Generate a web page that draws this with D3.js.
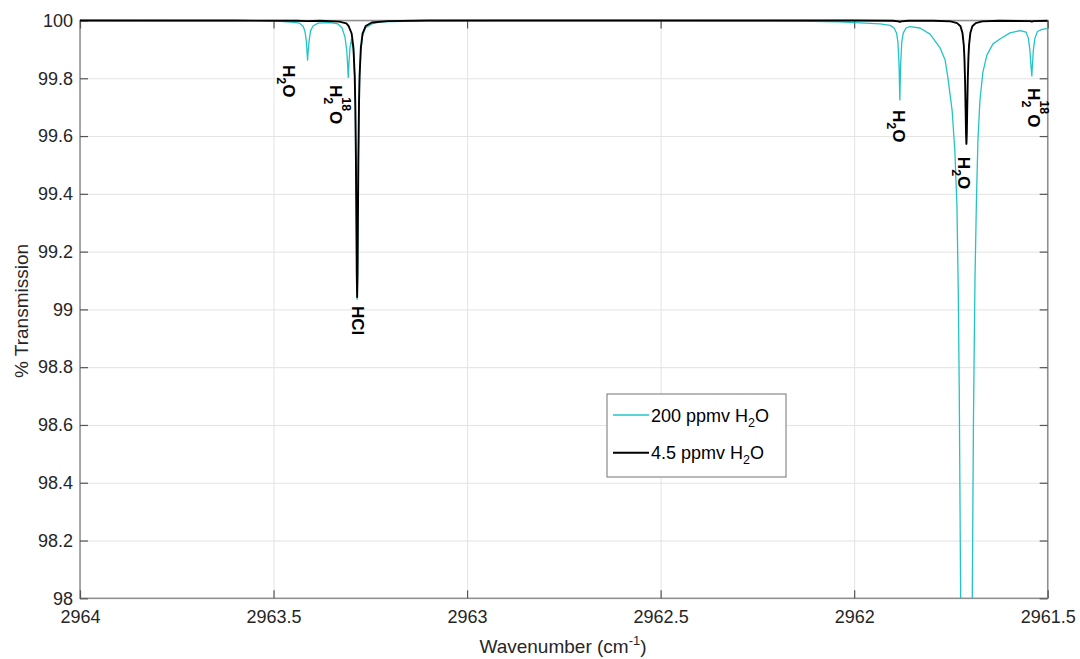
<!DOCTYPE html>
<html>
<head>
<meta charset="utf-8">
<script src="https://cdn.jsdelivr.net/npm/d3@7"></script>
<style>
  body { margin: 0; background: #fff; }
  svg { display: block; }
</style>
</head>
<body>
<svg id="chart" width="1080" height="659"></svg>
<script>
// ---------------- data ----------------
const xTickValues = [2964, 2963.5, 2963, 2962.5, 2962, 2961.5];
const xTickLabels = ["2964", "2963.5", "2963", "2962.5", "2962", "2961.5"];
const yTickValues = [98, 98.2, 98.4, 98.6, 98.8, 99, 99.2, 99.4, 99.6, 99.8, 100];
const yTickLabels = ["98", "98.2", "98.4", "98.6", "98.8", "99", "99.2", "99.4", "99.6", "99.8", "100"];

const seriesNames = ["200 ppmv", "4.5 ppmv"];

// 200 ppmv H2O spectrum (wavenumber, % transmission)
const wn200 = [
  2964.000, 2963.690, 2963.561, 2963.483, 2963.445, 2963.432, 2963.424, 2963.419, 2963.415, 2963.4135,
  2963.412, 2963.4107, 2963.4084, 2963.4045, 2963.398, 2963.385, 2963.354, 2963.3335, 2963.323, 2963.3155,
  2963.311, 2963.309, 2963.307, 2963.305, 2963.3025, 2963.2986, 2963.2935, 2963.2903, 2963.2887, 2963.2872,
  2963.2859, 2963.2850, 2963.2840, 2963.2830, 2963.2821, 2963.2808, 2963.2793, 2963.2777, 2963.2745, 2963.2700,
  2963.2620, 2963.2460, 2963.2250, 2963.1000, 2962.9000, 2962.6000, 2962.269, 2962.140, 2962.037, 2961.985,
  2961.933, 2961.907, 2961.897, 2961.8905, 2961.887, 2961.884, 2961.882, 2961.880, 2961.877, 2961.873,
  2961.866, 2961.856, 2961.830, 2961.804, 2961.778, 2961.765, 2961.758, 2961.747, 2961.740, 2961.7345,
  2961.7311, 2961.7285, 2961.7249, 2961.718, 2961.710, 2961.702, 2961.6949, 2961.6918, 2961.6879, 2961.6841,
  2961.6802, 2961.6750, 2961.6673, 2961.6569, 2961.6414, 2961.6233, 2961.5975, 2961.5717, 2961.556, 2961.550,
  2961.546, 2961.5434, 2961.541, 2961.5395, 2961.537, 2961.533, 2961.5265, 2961.515, 2961.500
];
const tr200 = [
  100.000, 99.999, 99.999, 99.997, 99.994, 99.990, 99.981, 99.964, 99.926, 99.891,
  99.863, 99.891, 99.926, 99.964, 99.981, 99.991, 99.993, 99.988, 99.974, 99.943,
  99.898, 99.856, 99.803, 99.856, 99.905, 99.935, 99.896, 99.801, 99.698, 99.514,
  99.288, 99.114, 99.035, 99.114, 99.288, 99.514, 99.698, 99.801, 99.896, 99.947,
  99.975, 99.988, 99.995, 99.999, 100.000, 100.000, 99.999, 99.998, 99.9955, 99.992,
  99.988, 99.983, 99.974, 99.957, 99.926, 99.846, 99.725, 99.846, 99.926, 99.957,
  99.974, 99.979, 99.974, 99.953, 99.905, 99.863, 99.804, 99.690, 99.552, 99.361,
  99.067, 98.721, 98.000, 97.000, 96.000, 97.000, 98.000, 98.617, 99.102, 99.379,
  99.586, 99.725, 99.822, 99.881, 99.919, 99.936, 99.957, 99.965, 99.960, 99.939,
  99.898, 99.846, 99.808, 99.846, 99.898, 99.939, 99.962, 99.969, 99.972
];

// 4.5 ppmv H2O spectrum (wavenumber, % transmission)
const wn45 = [
  2964.000, 2963.600, 2963.440, 2963.412, 2963.380, 2963.330, 2963.312, 2963.3063, 2963.2982, 2963.2935,
  2963.2903, 2963.2887, 2963.2872, 2963.2859, 2963.2850, 2963.2840, 2963.2830, 2963.2821, 2963.2808, 2963.2793,
  2963.2777, 2963.2745, 2963.2700, 2963.2620, 2963.2460, 2963.2050, 2963.1000, 2962.0000, 2961.9000, 2961.8860,
  2961.8820, 2961.8780, 2961.8600, 2961.7950, 2961.7510, 2961.7340, 2961.7253, 2961.7202, 2961.7168, 2961.7151,
  2961.7134, 2961.7120, 2961.7110, 2961.7100, 2961.7090, 2961.7080, 2961.7066, 2961.7049, 2961.7032, 2961.6998,
  2961.6947, 2961.6860, 2961.6690, 2961.6250, 2961.5450, 2961.5410, 2961.5370, 2961.5000
];
const tr45 = [
  100.000, 100.000, 99.999, 99.998, 99.999, 99.996, 99.990, 99.981, 99.955, 99.904,
  99.809, 99.706, 99.522, 99.296, 99.122, 99.043, 99.122, 99.296, 99.522, 99.706,
  99.809, 99.904, 99.955, 99.981, 99.993, 99.998, 100.000, 100.000, 99.999, 99.997,
  99.995, 99.997, 99.999, 99.999, 99.997, 99.991, 99.980, 99.957, 99.915, 99.869,
  99.786, 99.686, 99.608, 99.573, 99.608, 99.686, 99.786, 99.869, 99.915, 99.957,
  99.980, 99.991, 99.997, 99.999, 99.998, 99.996, 99.998, 99.999
];

// peak annotations: anchor (wavenumber, transmission), base text, subscript, superscript, tail
const labelWn   = [2963.4756, 2963.354, 2963.297, 2961.900, 2961.732, 2961.551];
const labelTr   = [99.846, 99.777, 99.012, 99.690, 99.528, 99.766];
const labelBase = ["H", "H", "HCl", "H", "H", "H"];
const labelSub  = ["2", "2", "", "2", "2", "2"];
const labelSup  = ["", "18", "", "", "", "18"];
const labelTail = ["O", "O", "", "O", "O", "O"];

// ---------------- chart ----------------
const FONT = "'Liberation Sans', Arial, Helvetica, sans-serif";
const svg = d3.select("#chart");
const pLeft = 80, pRight = 1047.7, pTop = 20.5, pBottom = 598.3;

const x = d3.scaleLinear().domain([2964, 2961.5]).range([pLeft, pRight]);
const y = d3.scaleLinear().domain([98, 100]).range([pBottom, pTop]);

// grid
svg.append("g")
  .attr("transform", `translate(0,${pBottom})`)
  .call(d3.axisBottom(x).tickValues(xTickValues).tickSize(-(pBottom - pTop)).tickFormat(""))
  .call(g => { g.select(".domain").remove(); g.selectAll("line").attr("stroke", "#e3e3e3").attr("stroke-width", 1); });
svg.append("g")
  .attr("transform", `translate(${pLeft},0)`)
  .call(d3.axisLeft(y).tickValues(yTickValues).tickSize(-(pRight - pLeft)).tickFormat(""))
  .call(g => { g.select(".domain").remove(); g.selectAll("line").attr("stroke", "#e3e3e3").attr("stroke-width", 1); });

// box
svg.append("rect")
  .attr("x", pLeft).attr("y", pTop).attr("width", pRight - pLeft).attr("height", pBottom - pTop)
  .attr("fill", "none").attr("stroke", "#8f8f8f").attr("stroke-width", 1.5);

const tickLen = 8;
function styleAxis(g) {
  g.select(".domain").remove();
  g.selectAll("line").attr("stroke", "#555").attr("stroke-width", 1.2);
  g.selectAll("text").attr("fill", "#262626").style("font-family", FONT).style("font-size", "18px");
}
svg.append("g").attr("transform", `translate(0,${pBottom})`)
  .call(d3.axisBottom(x).tickValues(xTickValues).tickFormat((d, i) => xTickLabels[i])
    .tickSizeInner(-tickLen).tickSizeOuter(0).tickPadding(12))
  .call(styleAxis);
svg.append("g").attr("transform", `translate(0,${pTop})`)
  .call(d3.axisTop(x).tickValues(xTickValues).tickFormat("").tickSizeInner(-tickLen).tickSizeOuter(0))
  .call(styleAxis);
svg.append("g").attr("transform", `translate(${pLeft},0)`)
  .call(d3.axisLeft(y).tickValues(yTickValues).tickFormat((d, i) => yTickLabels[i])
    .tickSizeInner(-tickLen).tickSizeOuter(0).tickPadding(7))
  .call(styleAxis);
svg.append("g").attr("transform", `translate(${pRight},0)`)
  .call(d3.axisRight(y).tickValues(yTickValues).tickFormat("").tickSizeInner(-tickLen).tickSizeOuter(0))
  .call(styleAxis);

// clip
svg.append("defs").append("clipPath").attr("id", "plotclip")
  .append("rect").attr("x", pLeft).attr("y", pTop - 3).attr("width", pRight - pLeft).attr("height", pBottom - pTop + 3);

const line = d3.line().x(d => x(d[0])).y(d => y(d[1]));
const data200 = wn200.map((w, i) => [w, tr200[i]]).sort((a, b) => b[0] - a[0]);
const data45 = wn45.map((w, i) => [w, tr45[i]]).sort((a, b) => b[0] - a[0]);

const plot = svg.append("g").attr("clip-path", "url(#plotclip)");
plot.append("path").attr("d", line(data200)).attr("fill", "none")
  .attr("stroke", "#22c4c8").attr("stroke-width", 1.3).attr("stroke-linejoin", "round");
plot.append("path").attr("d", line(data45)).attr("fill", "none")
  .attr("stroke", "#000").attr("stroke-width", 1.9).attr("stroke-linejoin", "round");

// peak labels (rotated 90deg)
labelWn.forEach((w, i) => {
  const g = svg.append("g")
    .attr("transform", `translate(${x(w)},${y(labelTr[i])}) rotate(90)`)
    .style("font-family", FONT).style("font-weight", "bold").attr("fill", "#000");
  const base = g.append("text").attr("x", 0).attr("y", 0).style("font-size", "17px").text(labelBase[i]);
  let off = base.node().getComputedTextLength();
  let extra = 0;
  if (labelSub[i]) {
    const s = g.append("text").attr("x", off).attr("y", 6).style("font-size", "12.5px").text(labelSub[i]);
    extra = Math.max(extra, s.node().getComputedTextLength());
  }
  if (labelSup[i]) {
    const s = g.append("text").attr("x", off).attr("y", -12).style("font-size", "12.5px").text(labelSup[i]);
    extra = Math.max(extra, s.node().getComputedTextLength());
  }
  off += extra;
  if (labelTail[i]) {
    g.append("text").attr("x", off).attr("y", 0).style("font-size", "17px").text(labelTail[i]);
  }
});

// axis labels
const xl = svg.append("text").attr("x", 563).attr("y", 653).attr("text-anchor", "middle")
  .style("font-family", FONT).style("font-size", "19px").attr("fill", "#262626");
xl.append("tspan").text("Wavenumber (cm");
xl.append("tspan").attr("dy", -8).style("font-size", "13px").text("-1");
xl.append("tspan").attr("dy", 8).text(")");

svg.append("text").attr("transform", "translate(28,311) rotate(-90)").attr("text-anchor", "middle")
  .style("font-family", FONT).style("font-size", "19px").attr("fill", "#262626")
  .text("% Transmission");

// legend
const lg = svg.append("g");
lg.append("rect").attr("x", 607).attr("y", 394).attr("width", 179).attr("height", 83)
  .attr("fill", "#fff").attr("stroke", "#8a8a8a").attr("stroke-width", 1.2);
const legColors = ["#22c4c8", "#000"];
const legWidths = [1.3, 1.9];
seriesNames.forEach((n, i) => {
  const ly = 415 + i * 37.7;
  lg.append("line").attr("x1", 613).attr("x2", 649).attr("y1", ly).attr("y2", ly)
    .attr("stroke", legColors[i]).attr("stroke-width", legWidths[i]);
  const t = lg.append("text").attr("x", 651).attr("y", ly + 6.5)
    .style("font-family", FONT).style("font-size", "18px").attr("fill", "#000");
  t.append("tspan").text(n + " H");
  t.append("tspan").attr("dy", 5).style("font-size", "12.5px").text("2");
  t.append("tspan").attr("dy", -5).text("O");
});
</script>
</body>
</html>
